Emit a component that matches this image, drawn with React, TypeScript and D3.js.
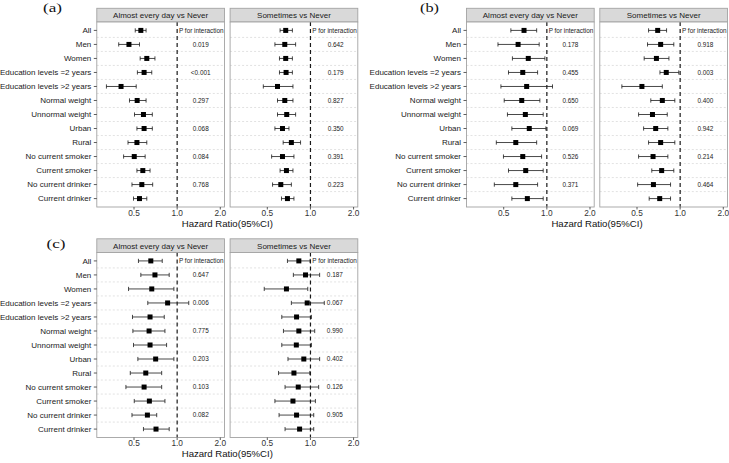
import React from "react";
import * as d3 from "d3";

const rowLabels = [
  "All", "Men", "Women", "Education levels =2 years", "Education levels >2 years",
  "Normal weight", "Unnormal weight", "Urban", "Rural", "No current smoker",
  "Current smoker", "No current drinker", "Current drinker",
];
const panelTitles = ["Almost every day vs Never", "Sometimes vs Never"];
const xTicks = [0.5, 1.0, 2.0];
const xTickLabels = ["0.5", "1.0", "2.0"];
const figureLabels = ["(a)", "(b)", "(c)"];
const pHeader = "P for interaction";
const axisTitle = "Hazard Ratio(95%CI)";

// (a)
const aDailyHR = [0.558, 0.461, 0.614, 0.588, 0.406, 0.526, 0.582, 0.588, 0.524, 0.502, 0.576, 0.567, 0.546];
const aDailyLo = [0.510, 0.391, 0.552, 0.528, 0.321, 0.465, 0.504, 0.524, 0.454, 0.423, 0.524, 0.484, 0.496];
const aDailyHi = [0.607, 0.546, 0.700, 0.665, 0.518, 0.607, 0.671, 0.671, 0.614, 0.598, 0.647, 0.675, 0.614];
const aSomeHR = [0.672, 0.662, 0.672, 0.676, 0.589, 0.662, 0.683, 0.638, 0.736, 0.638, 0.680, 0.621, 0.691];
const aSomeLo = [0.614, 0.565, 0.608, 0.608, 0.469, 0.589, 0.589, 0.565, 0.645, 0.536, 0.614, 0.544, 0.628];
const aSomeHi = [0.748, 0.788, 0.748, 0.748, 0.755, 0.755, 0.788, 0.708, 0.853, 0.767, 0.755, 0.736, 0.767];
const aDailyP = ["", "0.019", "", "<0.001", "", "0.297", "", "0.068", "", "0.084", "", "0.768", ""];
const aSomeP = ["", "0.642", "", "0.179", "", "0.827", "", "0.350", "", "0.391", "", "0.223", ""];

// (b)
const bDailyHR = [0.693, 0.630, 0.742, 0.679, 0.723, 0.668, 0.708, 0.754, 0.607, 0.679, 0.712, 0.607, 0.731];
const bDailyLo = [0.561, 0.456, 0.575, 0.540, 0.478, 0.504, 0.531, 0.570, 0.444, 0.498, 0.540, 0.430, 0.570];
const bDailyHi = [0.849, 0.884, 0.969, 0.862, 1.095, 0.894, 0.943, 0.984, 0.849, 0.919, 0.943, 0.862, 0.943];
const bSomeHR = [0.697, 0.731, 0.683, 0.800, 0.541, 0.751, 0.641, 0.675, 0.731, 0.647, 0.743, 0.651, 0.720];
const bSomeLo = [0.602, 0.592, 0.561, 0.723, 0.392, 0.624, 0.513, 0.556, 0.602, 0.513, 0.634, 0.505, 0.608];
const bSomeHi = [0.804, 0.903, 0.835, 0.978, 0.751, 0.918, 0.813, 0.821, 0.918, 0.821, 0.903, 0.857, 0.857];
const bDailyP = ["", "0.178", "", "0.455", "", "0.650", "", "0.069", "", "0.526", "", "0.371", ""];
const bSomeP = ["", "0.918", "", "0.003", "", "0.400", "", "0.942", "", "0.214", "", "0.464", ""];

// (c)
const cDailyHR = [0.655, 0.700, 0.665, 0.858, 0.647, 0.637, 0.647, 0.708, 0.604, 0.588, 0.640, 0.620, 0.712];
const cDailyLo = [0.537, 0.558, 0.458, 0.624, 0.488, 0.491, 0.496, 0.532, 0.471, 0.439, 0.502, 0.484, 0.582];
const cDailyHi = [0.787, 0.880, 0.949, 1.205, 0.813, 0.822, 0.844, 0.949, 0.780, 0.780, 0.822, 0.720, 0.880];
const cSomeHR = [0.830, 0.924, 0.680, 0.949, 0.800, 0.830, 0.797, 0.899, 0.767, 0.822, 0.755, 0.800, 0.840];
const cSomeLo = [0.691, 0.760, 0.476, 0.736, 0.631, 0.648, 0.631, 0.697, 0.599, 0.665, 0.565, 0.604, 0.665];
const cSomeHi = [0.995, 1.159, 0.958, 1.249, 1.016, 1.071, 1.016, 1.159, 0.990, 1.141, 1.083, 1.054, 1.054];
const cDailyP = ["", "0.647", "", "0.006", "", "0.775", "", "0.203", "", "0.103", "", "0.082", ""];
const cSomeP = ["", "0.187", "", "0.067", "", "0.990", "", "0.402", "", "0.126", "", "0.905", ""];

const FONT = "'Liberation Sans', Arial, sans-serif";

type PanelData = { hr: number[]; lo: number[]; hi: number[]; p: string[]; pX: number };
type FigData = { label: string; ox: number; oy: number; labelX: number; labelY: number; panels: PanelData[] };

const figures: FigData[] = [
  {
    label: figureLabels[0], ox: 0, oy: 0, labelX: 43, labelY: 11.5,
    panels: [
      { hr: aDailyHR, lo: aDailyLo, hi: aDailyHi, p: aDailyP, pX: 1.46 },
      { hr: aSomeHR, lo: aSomeLo, hi: aSomeHi, p: aSomeP, pX: 1.5 },
    ],
  },
  {
    label: figureLabels[1], ox: 369.7, oy: 0, labelX: 420, labelY: 11.5,
    panels: [
      { hr: bDailyHR, lo: bDailyLo, hi: bDailyHi, p: bDailyP, pX: 1.46 },
      { hr: bSomeHR, lo: bSomeLo, hi: bSomeHi, p: bSomeP, pX: 1.5 },
    ],
  },
  {
    label: figureLabels[2], ox: 0, oy: 230.5, labelX: 46.5, labelY: 248,
    panels: [
      { hr: cDailyHR, lo: cDailyLo, hi: cDailyHi, p: cDailyP, pX: 1.46 },
      { hr: cSomeHR, lo: cSomeLo, hi: cSomeHi, p: cSomeP, pX: 1.48 },
    ],
  },
];

const PANEL_X = [96.8, 230.1];
const PANEL_W = 127.7;
const STRIP_TOP = 8.3;
const PANEL_TOP = 22;
const PANEL_BOTTOM = 207;
const DOMAIN: [number, number] = [0.275, 2.14];

function Panel({ fig, pi }: { fig: FigData; pi: number }) {
  const d = fig.panels[pi];
  const x0 = fig.ox + PANEL_X[pi];
  const x1 = x0 + PANEL_W;
  const top = fig.oy + PANEL_TOP;
  const bottom = fig.oy + PANEL_BOTTOM;
  const stripTop = fig.oy + STRIP_TOP;
  const x = d3.scaleLog().domain(DOMAIN).range([x0, x1]);
  const y = d3.scalePoint<string>().domain(rowLabels).range([top, bottom]).padding(0.6);
  const step = y.step();
  const refX = x(1);
  const cap = 2.1;
  const sq = 5;
  return (
    <g>
      <rect x={x0} y={stripTop} width={PANEL_W} height={top - stripTop} fill="#d9d9d9" stroke="#a3a3a3" strokeWidth={0.9} />
      <text x={(x0 + x1) / 2} y={(stripTop + top) / 2 + 2.9} textAnchor="middle" fontSize={8} fontFamily={FONT} fill="#1a1a1a">
        {panelTitles[pi]}
      </text>
      <rect x={x0} y={top} width={PANEL_W} height={bottom - top} fill="#fff" />
      {rowLabels.slice(0, rowLabels.length - 1).map((r, i) => (
        <line key={"g" + i} x1={x0} x2={x1} y1={(y(r) as number) + step / 2} y2={(y(r) as number) + step / 2}
          stroke="#cfcfcf" strokeWidth={0.6} strokeDasharray="2,2" />
      ))}
      <line x1={refX} x2={refX} y1={top} y2={bottom} stroke="#1a1a1a" strokeWidth={1.2} strokeDasharray="4,3" />
      {rowLabels.map((r, i) => {
        const yy = y(r) as number;
        return (
          <g key={"e" + i}>
            <line x1={x(d.lo[i])} x2={x(d.hi[i])} y1={yy} y2={yy} stroke="#1a1a1a" strokeWidth={0.8} />
            <line x1={x(d.lo[i])} x2={x(d.lo[i])} y1={yy - cap} y2={yy + cap} stroke="#1a1a1a" strokeWidth={0.8} />
            <line x1={x(d.hi[i])} x2={x(d.hi[i])} y1={yy - cap} y2={yy + cap} stroke="#1a1a1a" strokeWidth={0.8} />
            <rect x={x(d.hr[i]) - sq / 2} y={yy - sq / 2} width={sq} height={sq} fill="#000" />
          </g>
        );
      })}
      <text x={refX + 1.8} y={(y(rowLabels[0]) as number) + 2.3} fontSize={6.4} fontFamily={FONT} fill="#1a1a1a">
        {pHeader}
      </text>
      {d.p.map((t, i) => t ? (
        <text key={"p" + i} x={x(d.pX)} y={(y(rowLabels[i]) as number) + 2.3} textAnchor="middle" fontSize={6.4} fontFamily={FONT} fill="#1a1a1a">
          {t}
        </text>
      ) : null)}
      <rect x={x0} y={top} width={PANEL_W} height={bottom - top} fill="none" stroke="#a3a3a3" strokeWidth={0.9} />
      {xTicks.map((t, i) => (
        <g key={"xt" + i}>
          <line x1={x(t)} x2={x(t)} y1={bottom} y2={bottom + 2.5} stroke="#333" strokeWidth={0.8} />
          <text x={x(t)} y={bottom + 8.8} textAnchor="middle" fontSize={8.3} fontFamily={FONT} fill="#333">
            {xTickLabels[i]}
          </text>
        </g>
      ))}
      {pi === 0 && rowLabels.map((r, i) => (
        <g key={"yt" + i}>
          <line x1={x0 - 3} x2={x0} y1={y(r) as number} y2={y(r) as number} stroke="#333" strokeWidth={0.8} />
          <text x={x0 - 5.5} y={(y(r) as number) + 2.9} textAnchor="end" fontSize={8} fontFamily={FONT} fill="#222">
            {r}
          </text>
        </g>
      ))}
    </g>
  );
}

function Figure({ fig }: { fig: FigData }) {
  const cx = fig.ox + (PANEL_X[0] + PANEL_X[1] + PANEL_W) / 2;
  return (
    <g>
      <text x={fig.labelX} y={fig.labelY} fontSize={12.5} fontFamily="'Liberation Serif', 'Times New Roman', serif"
        fill="#111" textLength={19} lengthAdjust="spacingAndGlyphs">
        {fig.label}
      </text>
      <Panel fig={fig} pi={0} />
      <Panel fig={fig} pi={1} />
      <text x={cx} y={fig.oy + PANEL_BOTTOM + 19.7} textAnchor="middle" fontSize={9.6} fontFamily={FONT} fill="#111">
        {axisTitle}
      </text>
    </g>
  );
}

export default function App() {
  return (
    <svg width={729} height={463} style={{ position: "absolute", left: 0, top: 0, background: "#fff" }}>
      <rect x={0} y={0} width={729} height={463} fill="#fff" />
      {figures.map((f, i) => <Figure key={i} fig={f} />)}
    </svg>
  );
}
